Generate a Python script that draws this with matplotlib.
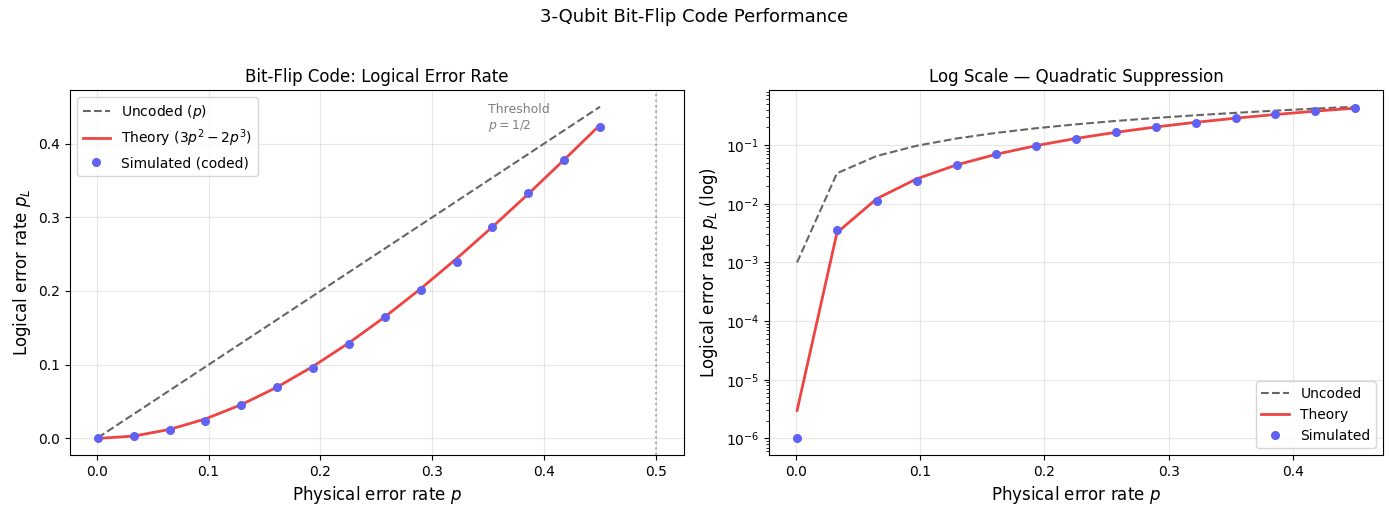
import numpy as np
import matplotlib
matplotlib.use('Agg')
import matplotlib.pyplot as plt

# physical error rates (15 points, 0.001 .. 0.45)
p_vals = [0.001, 0.0331, 0.0651, 0.0972, 0.1293, 0.1614, 0.1934, 0.2255,
          0.2576, 0.2896, 0.3217, 0.3538, 0.3859, 0.4179, 0.45]
# theory 3p^2 - 2p^3 evaluated at the points above
theory_vals = [3.0e-6, 0.00321, 0.01218, 0.02651, 0.04583, 0.06971, 0.09777,
               0.12962, 0.16485, 0.20308, 0.24391, 0.28693, 0.33177, 0.378, 0.42525]
# simulated logical error rate (coded)
sim_vals = [0.0, 0.0035, 0.011, 0.024, 0.045, 0.070, 0.095, 0.128,
            0.165, 0.202, 0.240, 0.287, 0.333, 0.378, 0.423]
sim_log_floor = 1e-6

c_unc = '#666666'
c_th = '#ee4444'
c_sim = '#6262f2'

fig, (ax1, ax2) = plt.subplots(1, 2, figsize=(13.89, 5.15), dpi=100)
fig.suptitle('3-Qubit Bit-Flip Code Performance', fontsize=13, y=0.985)

ax1.plot(p_vals, p_vals, '--', color=c_unc, lw=1.5, label='Uncoded ($p$)')
ax1.plot(p_vals, theory_vals, '-', color=c_th, lw=2, label='Theory ($3p^2 - 2p^3$)')
ax1.plot(p_vals, sim_vals, 'o', color=c_sim, ms=5.5, label='Simulated (coded)')
ax1.axvline(0.5, color='gray', ls=':', alpha=0.6)
ax1.text(0.35, 0.42, 'Threshold\n$p=1/2$', fontsize=9, color='gray')
ax1.set_xlabel('Physical error rate $p$', fontsize=12)
ax1.set_ylabel('Logical error rate $p_L$', fontsize=12)
ax1.set_title('Bit-Flip Code: Logical Error Rate', fontsize=12)
ax1.legend(fontsize=10, loc='upper left')
ax1.grid(True, alpha=0.3)

sim_log = [max(v, sim_log_floor) for v in sim_vals]
ax2.semilogy(p_vals, p_vals, '--', color=c_unc, lw=1.5, label='Uncoded')
ax2.semilogy(p_vals, theory_vals, '-', color=c_th, lw=2, label='Theory')
ax2.semilogy(p_vals, sim_log, 'o', color=c_sim, ms=5.5, label='Simulated')
ax2.set_xlabel('Physical error rate $p$', fontsize=12)
ax2.set_ylabel('Logical error rate $p_L$ (log)', fontsize=12)
ax2.set_title('Log Scale — Quadratic Suppression', fontsize=12)
ax2.legend(fontsize=10, loc='lower right')
ax2.grid(True, alpha=0.3)

fig.subplots_adjust(left=0.0504, right=0.9957, top=0.825, bottom=0.1165, wspace=0.139)
plt.savefig('out.png', dpi=100)
